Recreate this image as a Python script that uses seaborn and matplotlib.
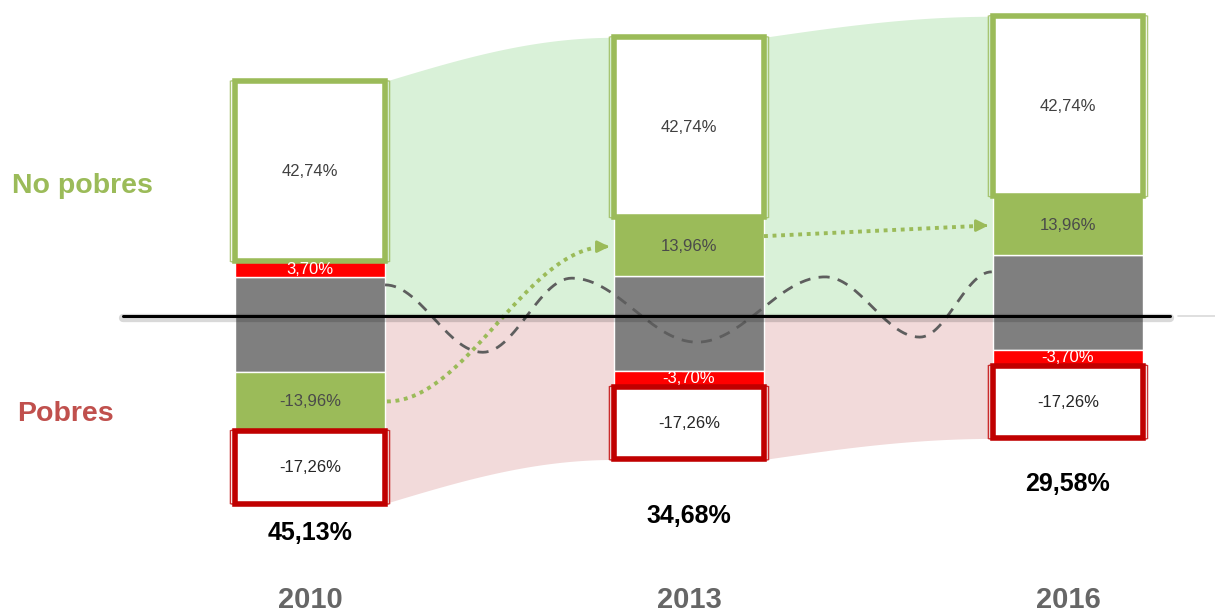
import numpy as np
import pandas as pd
import seaborn as sns
import matplotlib.pyplot as plt
from matplotlib.patches import FancyBboxPatch

# --- datos ---
years = ["2010", "2013", "2016"]
no_pobres_box = [42.74, 42.74, 42.74]
green_seg = [-13.96, 13.96, 13.96]
red_seg = [3.70, -3.70, -3.70]
pobres_box = [-17.26, -17.26, -17.26]
gray_base = [-13.3, -13.1, -8.1]
gray_height = [22.6, 22.6, 22.6]
totals = ["45,13%", "34,68%", "29,58%"]
box_label = ["42,74%", "42,74%", "42,74%"]
green_label = ["-13,96%", "13,96%", "13,96%"]
red_label = ["3,70%", "-3,70%", "-3,70%"]
pobres_label = ["-17,26%", "-17,26%", "-17,26%"]

# curva decorativa (posicion de año, valor) en sus extremos
wave_x = [0.198, 0.456, 0.691, 1.021, 1.359, 1.609, 1.799]
wave_y = [7.4, -8.6, 9.0, -6.2, 9.3, -5.0, 10.5]

# --- estilo / layout ---
GREEN = "#9BBB59"
RED = "#FF0000"
DARKRED = "#C00000"
GRAY = "#7F7F7F"
BAR_W = 0.396
total_gap = [7.0, 13.4, 10.8]

sns.set_style("white")
plt.rcParams["font.family"] = ["Liberation Sans", "DejaVu Sans"]

fig = plt.figure(figsize=(12.15, 6.15), dpi=100)
ax = fig.add_axes([0, 0, 1, 1])

# apilado: positivos hacia arriba desde el gris, negativos hacia abajo
gray_top = [b + h for b, h in zip(gray_base, gray_height)]
up = list(gray_top)
down = list(gray_base)


def stack(i, v):
    if v >= 0:
        b = up[i]
        up[i] += v
    else:
        down[i] += v
        b = down[i]
    return b


green_bottom = [stack(i, v) for i, v in enumerate(green_seg)]
red_bottom = [stack(i, v) for i, v in enumerate(red_seg)]
box_bottom = [stack(i, v) for i, v in enumerate(no_pobres_box)]
pob_bottom = [stack(i, v) for i, v in enumerate(pobres_box)]
box_top = [b + v for b, v in zip(box_bottom, no_pobres_box)]


def layer(values, bottoms, color, **kw):
    sns.barplot(x=years, y=np.abs(values), bottom=bottoms, color=color,
                saturation=1, width=BAR_W, errorbar=None, ax=ax, zorder=2, **kw)
    return ax.containers[-1]


# bandas de fondo
def band(vals):
    xs = [np.array([-BAR_W / 2, BAR_W / 2])]
    ys = [np.array([vals[0], vals[0]])]
    t = np.linspace(0, 1, 80)
    for i in range(len(vals) - 1):
        x0, x1 = i + BAR_W / 2, i + 1 - BAR_W / 2
        xs.append(x0 + (x1 - x0) * t)
        ys.append(vals[i] + (vals[i + 1] - vals[i]) * np.sin(t * np.pi / 2))
        if i + 1 < len(vals) - 1:
            xs.append(np.array([x1, x1 + BAR_W]))
            ys.append(np.array([vals[i + 1], vals[i + 1]]))
    return np.concatenate(xs), np.concatenate(ys)


bx, by = band(box_top)
ax.fill_between(bx, 0, by, color="#D9F1D8", lw=0, zorder=0.5)
px_, py_ = band(pob_bottom)
ax.fill_between(px_, py_, 0, color="#F2DADA", lw=0, zorder=0.5)

layer(gray_height, gray_base, GRAY)
layer(green_seg, green_bottom, GREEN)
layer(red_seg, red_bottom, RED)
white_bars = layer(no_pobres_box, box_bottom, "white", edgecolor=GREEN, linewidth=4)
red_bars = layer(pobres_box, pob_bottom, "white", edgecolor=DARKRED, linewidth=4)

# marco fino exterior
for bars, ec in ((white_bars, GREEN), (red_bars, DARKRED)):
    for r in bars:
        frame = FancyBboxPatch((r.get_x(), r.get_y()), r.get_width(), r.get_height(),
                               boxstyle="round,pad=0.012,rounding_size=0.01",
                               mutation_aspect=10.5, fc="none", ec=ec, lw=1,
                               alpha=0.8, zorder=2.5)
        ax.add_patch(frame)

# curva punteada gris
wx, wy = [], []
t = np.linspace(0, 1, 60)
for i in range(len(wave_x) - 1):
    wx.append(wave_x[i] + (wave_x[i + 1] - wave_x[i]) * t)
    wy.append(wave_y[i] + (wave_y[i + 1] - wave_y[i]) * (1 - np.cos(np.pi * t)) / 2)
ax.plot(np.concatenate(wx), np.concatenate(wy), ls=(0, (4, 3)), color="#5E5E5E",
        lw=2, zorder=3)

# flechas verdes
g_mid = [b + abs(v) / 2 for b, v in zip(green_bottom, green_seg)]
x0, x1 = BAR_W / 2 + 0.005, 1 - BAR_W / 2 - 0.02
ax_x = x0 + (x1 - x0) * t
ax_y = g_mid[0] + (g_mid[1] - g_mid[0]) * (1 - np.cos(np.pi * t)) / 2
ax.plot(ax_x, ax_y, ls=(0, (1, 1.2)), color=GREEN, lw=2.8, zorder=3)
ax.annotate("", xy=(1 - BAR_W / 2 - 0.005, g_mid[1]), xytext=(x1 - 0.01, g_mid[1]),
            arrowprops=dict(arrowstyle="-|>,head_length=0.7,head_width=0.35",
                            color=GREEN, lw=2), zorder=3)
x2, x3 = 1 + BAR_W / 2, 2 - BAR_W / 2 - 0.02
ax.plot([x2, x3], [g_mid[1] + 2.5, g_mid[2]], ls=(0, (1, 1.2)), color=GREEN,
        lw=2.8, zorder=3)
ax.annotate("", xy=(2 - BAR_W / 2 - 0.005, g_mid[2]), xytext=(x3 - 0.01, g_mid[2]),
            arrowprops=dict(arrowstyle="-|>,head_length=0.7,head_width=0.35",
                            color=GREEN, lw=2), zorder=3)

# linea cero
ax.plot([-0.493, 2.269], [-0.4, -0.4], color="black", lw=6, alpha=0.15,
        solid_capstyle="round", zorder=3.5)
ax.plot([-0.493, 2.269], [0, 0], color="black", lw=2.2, zorder=4)
ax.plot([2.29, 2.39], [0, 0], color="#D9D9D9", lw=1.2, zorder=4)

# etiquetas
for i in range(len(years)):
    ax.text(i, box_bottom[i] + no_pobres_box[i] / 2, box_label[i], ha="center",
            va="center", fontsize=12, color="#404040", zorder=5)
    ax.text(i, green_bottom[i] + abs(green_seg[i]) / 2, green_label[i], ha="center",
            va="center", fontsize=12, color="#4A4A4A", zorder=5)
    ax.text(i, red_bottom[i] + abs(red_seg[i]) / 2, red_label[i], ha="center",
            va="center", fontsize=12, color="white", zorder=5)
    ax.text(i, pob_bottom[i] - pobres_box[i] / 2, pobres_label[i], ha="center",
            va="center", fontsize=12, color="#262626", zorder=5)
    ax.text(i, pob_bottom[i] - total_gap[i], totals[i], ha="center", va="center",
            fontsize=18, fontweight="bold", color="black", zorder=5,
            family=["Liberation Sans Narrow", "Liberation Sans"])
    ax.text(i, -67.4, years[i], ha="center", va="center", fontsize=21,
            fontweight="bold", color="#666666", zorder=5,
            family=["Liberation Sans Narrow", "Liberation Sans"])

ax.text(-0.786, 30.9, "No pobres", ha="left", va="center", fontsize=20.5,
        fontweight="bold", color=GREEN)
ax.text(-0.773, -23.3, "Pobres", ha="left", va="center", fontsize=20.5,
        fontweight="bold", color="#C0504D")

ax.set_xlim(-0.818, 2.388)
ax.set_ylim(-71.0, 75.06)
ax.axis("off")

fig.savefig("out.png", dpi=100)
